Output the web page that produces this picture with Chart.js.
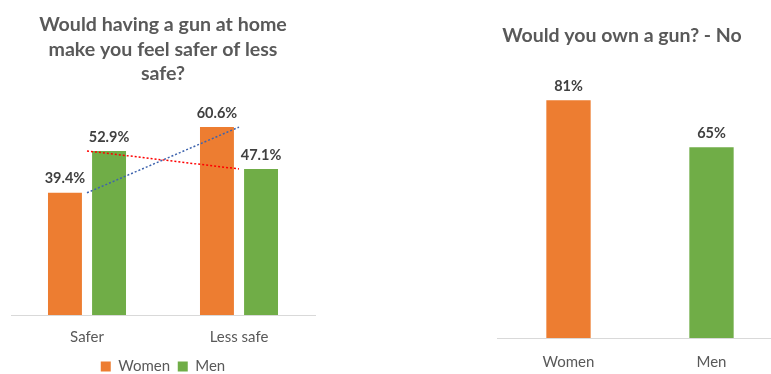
<!DOCTYPE html>
<html>
<head>
<meta charset="utf-8">
<script src="https://cdn.jsdelivr.net/npm/chart.js@4/dist/chart.umd.min.js"></script>
<style>
  html, body { margin: 0; padding: 0; background: #fff; overflow: hidden; width: 771px; height: 374px; }
  #left { position: absolute; left: 0; top: 0; width: 330px; height: 384px; }
  #right { position: absolute; left: 420px; top: 0; width: 404px; height: 389px; }
</style>
</head>
<body>
<div id="left"><canvas id="safetyChart"></canvas></div>
<div id="right"><canvas id="ownChart"></canvas></div>
<script>
// left chart data
const safetyCategories = ["Safer", "Less safe"];
const womenSafety = [39.4, 60.6];
const menSafety = [52.9, 47.1];

// right chart data
const ownCategories = ["Women", "Men"];
const ownNo = [81, 65];

const ORANGE = "#ED7D31";
const GREEN = "#70AD47";
const GREY = "#595959";
const FONT = "Lato, 'Open Sans', sans-serif";

// small plugin for the value labels above the bars
const barLabels = {
  id: "barLabels",
  afterDatasetsDraw(chart, args, opts) {
    const ctx = chart.ctx;
    ctx.save();
    ctx.font = "bold 14.5px " + FONT;
    ctx.fillStyle = "#404040";
    ctx.textAlign = "center";
    ctx.textBaseline = "middle";
    chart.data.datasets.forEach((ds, i) => {
      if (ds.type === "line") return;
      chart.getDatasetMeta(i).data.forEach((bar, j) => {
        const txt = ds.data[j].toFixed(opts.decimals) + "%";
        ctx.fillText(txt, bar.x, bar.y - 14);
      });
    });
    ctx.restore();
  }
};

new Chart(document.getElementById("safetyChart"), {
  type: "bar",
  data: {
    labels: safetyCategories,
    datasets: [
      { label: "Women", data: womenSafety, backgroundColor: ORANGE, order: 2 },
      { label: "Men", data: menSafety, backgroundColor: GREEN, order: 2 },
      { type: "line", label: "Women trend", data: womenSafety, borderColor: "#3E64AE",
        borderDash: [2, 2], borderWidth: 1.5, pointRadius: 0, fill: false, order: 1 },
      { type: "line", label: "Men trend", data: menSafety, borderColor: "#FF0000",
        borderDash: [2, 2], borderWidth: 1.5, pointRadius: 0, fill: false, order: 1 }
    ]
  },
  options: {
    responsive: true,
    maintainAspectRatio: false,
    animation: false,
    layout: { padding: { left: 11, right: 15, top: 13, bottom: 0 } },
    datasets: { bar: { categoryPercentage: 0.58, barPercentage: 0.77 } },
    scales: {
      x: {
        grid: { display: false, drawTicks: false },
        border: { color: "#D9D9D9" },
        ticks: { color: GREY, font: { family: FONT, size: 15 }, padding: 13 }
      },
      y: { display: false, min: 0, max: 70 }
    },
    plugins: {
      title: {
        display: true,
        text: ["Would having a gun at home", "make you feel safer of less", "safe?"],
        color: GREY,
        font: { family: FONT, size: 19.6, weight: "bold", lineHeight: 1.24 },
        padding: { top: 0, bottom: 12 }
      },
      legend: {
        position: "bottom",
        labels: {
          color: GREY,
          font: { family: FONT, size: 15 },
          boxWidth: 10, boxHeight: 10, padding: 0,
          generateLabels: (chart) =>
            Chart.defaults.plugins.legend.labels.generateLabels(chart)
              .filter((item) => item.text === "Women" || item.text === "Men")
              .map((item) => item.text === "Women" ? { ...item, text: "Women  " } : item)
        }
      },
      tooltip: { enabled: false },
      barLabels: { decimals: 1 }
    }
  },
  plugins: [barLabels]
});

new Chart(document.getElementById("ownChart"), {
  type: "bar",
  data: {
    labels: ownCategories,
    datasets: [
      { label: "No", data: ownNo, backgroundColor: [ORANGE, GREEN] }
    ]
  },
  options: {
    responsive: true,
    maintainAspectRatio: false,
    animation: false,
    layout: { padding: { left: 0, right: 0, top: 23, bottom: 3 } },
    datasets: { bar: { categoryPercentage: 0.62, barPercentage: 0.5 } },
    scales: {
      x: {
        grid: { display: false, drawTicks: false },
        border: { color: "#D9D9D9" },
        ticks: { color: GREY, font: { family: FONT, size: 15 }, padding: 15 }
      },
      y: {
        min: 0, max: 90,
        grid: { display: false }, border: { display: false },
        ticks: { display: false },
        afterFit: (scale) => { scale.width = 77; }
      },
      y2: {
        position: "right",
        grid: { display: false }, border: { display: false },
        ticks: { display: false },
        afterFit: (scale) => { scale.width = 41; }
      }
    },
    plugins: {
      title: {
        display: true,
        text: "Would you own a gun? - No",
        color: GREY,
        font: { family: FONT, size: 19.5, weight: "bold", lineHeight: 1.28 },
        padding: { top: 0, bottom: 26 }
      },
      legend: { display: false },
      tooltip: { enabled: false },
      barLabels: { decimals: 0 }
    }
  },
  plugins: [barLabels]
});
</script>
</body>
</html>
